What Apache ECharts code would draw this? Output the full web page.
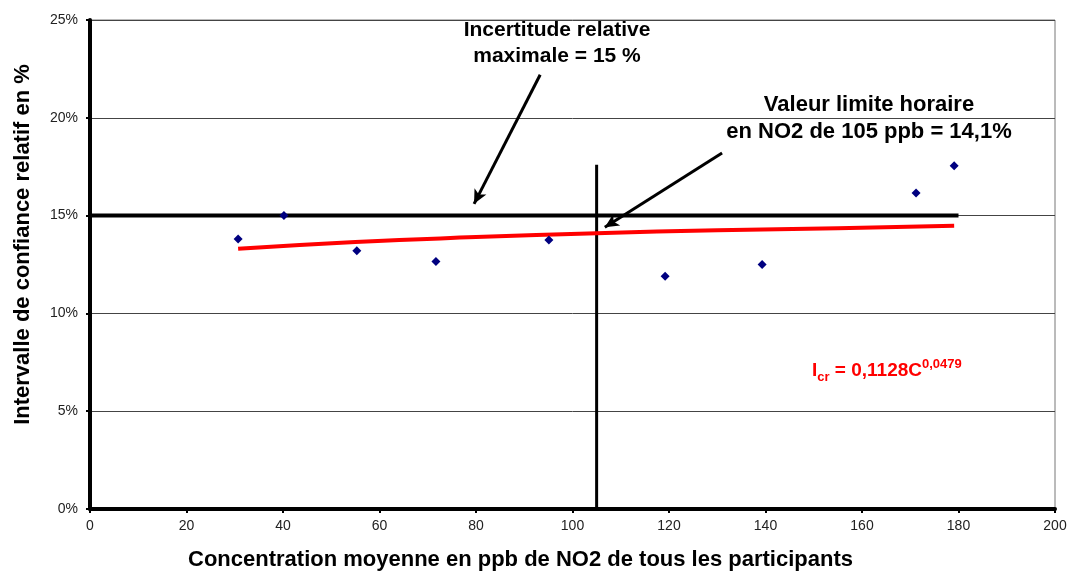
<!DOCTYPE html>
<html>
<head>
<meta charset="utf-8">
<script src="https://cdn.jsdelivr.net/npm/echarts@6/dist/echarts.min.js"></script>
<style>
  html, body { margin: 0; padding: 0; background: #fff; }
  #main { width: 1070px; height: 576px; }
</style>
</head>
<body>
<div id="main"></div>
<script>
// mesures (concentration ppb, intervalle %)
var concentrations = [30.7, 40.2, 55.3, 71.7, 95.1, 119.2, 139.3, 171.2, 179.1];
var intervalles = [13.8, 15.0, 13.2, 12.65, 13.75, 11.9, 12.5, 16.15, 17.55];

// courbe de tendance
var tendanceX = [30.7, 55, 80, 105, 130, 155, 179.1];
var tendanceY = [13.3, 13.65, 13.9, 14.1, 14.25, 14.35, 14.48];

// seuil 15 % et valeur limite 105 ppb
var seuilX = [0, 180];
var seuilY = 15;
var limiteX = 105;
var limiteY = [0, 17.6];

// flèches [x1, y1, x2, y2]
var fleche1 = [93.3, 22.2, 79.6, 15.6];
var fleche2 = [131, 18.2, 106.7, 14.4];

var xTicks = { min: 0, max: 200, interval: 20 };
var yTicks = { min: 0, max: 25, interval: 5 };

function zip(a, b) {
    return a.map(function (v, i) { return [v, b[i]]; });
}

var dom = document.getElementById('main');
var myChart = echarts.init(dom);

var boldFont = '"Liberation Sans", Arial, sans-serif';

var option = {
    animation: false,
    backgroundColor: '#fff',
    textStyle: { fontFamily: boldFont },
    grid: {
        left: 90,
        right: 15,
        top: 20,
        bottom: 64,
        show: true,
        borderColor: '#777',
        borderWidth: 1
    },
    xAxis: {
        type: 'value',
        min: xTicks.min,
        max: xTicks.max,
        interval: xTicks.interval,
        name: 'Concentration moyenne en ppb de NO2 de tous les participants',
        nameLocation: 'middle',
        nameGap: 40,
        nameTextStyle: {
            color: '#000',
            fontSize: 22,
            fontWeight: 'bold',
            padding: [0, 104, 0, 0]
        },
        axisLine: { show: true, onZero: false, lineStyle: { color: '#000', width: 4 } },
        axisTick: { show: true, length: 4, lineStyle: { color: '#000', width: 2 } },
        axisLabel: { color: '#222', fontSize: 14, margin: 10 },
        splitLine: { show: false }
    },
    yAxis: {
        type: 'value',
        min: yTicks.min,
        max: yTicks.max,
        interval: yTicks.interval,
        name: 'Intervalle de confiance relatif en %',
        nameLocation: 'middle',
        nameGap: 56,
        nameTextStyle: {
            color: '#000',
            fontSize: 22,
            fontWeight: 'bold',
            padding: [0, 0, 0, 40]
        },
        axisLine: { show: true, onZero: false, lineStyle: { color: '#000', width: 4 } },
        axisTick: { show: true, length: 4, lineStyle: { color: '#000', width: 2 } },
        axisLabel: { color: '#222', fontSize: 14, margin: 12, formatter: '{value}%' },
        splitLine: { show: true, lineStyle: { color: '#444', width: 1 } }
    },
    series: [
        {
            name: 'Seuil',
            type: 'line',
            data: seuilX.map(function (x) { return [x, seuilY]; }),
            symbol: 'none',
            lineStyle: { color: '#000', width: 4 },
            z: 3
        },
        {
            name: 'Valeur limite',
            type: 'line',
            data: limiteY.map(function (y) { return [limiteX, y]; }),
            symbol: 'none',
            lineStyle: { color: '#000', width: 3 },
            z: 3
        },
        {
            name: 'Tendance',
            type: 'line',
            data: zip(tendanceX, tendanceY),
            symbol: 'none',
            smooth: true,
            lineStyle: { color: '#ff0000', width: 4 },
            z: 4
        },
        {
            name: 'Mesures',
            type: 'scatter',
            data: zip(concentrations, intervalles),
            symbol: 'diamond',
            symbolSize: 9,
            itemStyle: { color: '#000080', opacity: 1 },
            z: 5
        },
        {
            name: 'Fleches',
            type: 'line',
            data: [],
            markLine: {
                silent: true,
                symbol: ['none', 'arrow'],
                symbolSize: [10, 14],
                label: { show: false },
                lineStyle: { color: '#000', width: 3, type: 'solid' },
                data: [
                    [{ coord: [fleche1[0], fleche1[1]] }, { coord: [fleche1[2], fleche1[3]] }],
                    [{ coord: [fleche2[0], fleche2[1]] }, { coord: [fleche2[2], fleche2[3]] }]
                ]
            },
            z: 6
        }
    ],
    graphic: [
        {
            type: 'text',
            x: 557,
            y: 17,
            style: {
                text: 'Incertitude relative\nmaximale = 15 %',
                align: 'center',
                verticalAlign: 'top',
                fill: '#000',
                font: 'bold 21px ' + boldFont,
                lineHeight: 26
            },
            z: 10
        },
        {
            type: 'text',
            x: 869,
            y: 91,
            style: {
                text: 'Valeur limite horaire\nen NO2 de 105 ppb = 14,1%',
                align: 'center',
                verticalAlign: 'top',
                fill: '#000',
                font: 'bold 22px ' + boldFont,
                lineHeight: 27
            },
            z: 10
        },
        {
            type: 'text',
            x: 812,
            y: 358,
            style: {
                text: '{a|I}{b|cr}{a| = 0,1128C}{c|0,0479}',
                rich: {
                    a: { fill: '#ff0000', fontSize: 19, fontWeight: 'bold', fontFamily: 'Liberation Sans', verticalAlign: 'middle', lineHeight: 26 },
                    b: { fill: '#ff0000', fontSize: 13, fontWeight: 'bold', fontFamily: 'Liberation Sans', verticalAlign: 'bottom', lineHeight: 26 },
                    c: { fill: '#ff0000', fontSize: 13, fontWeight: 'bold', fontFamily: 'Liberation Sans', verticalAlign: 'top', lineHeight: 26 }
                }
            },
            z: 10
        }
    ]
};

myChart.setOption(option, true);
window.onresize = myChart.resize;
</script>
</body>
</html>
